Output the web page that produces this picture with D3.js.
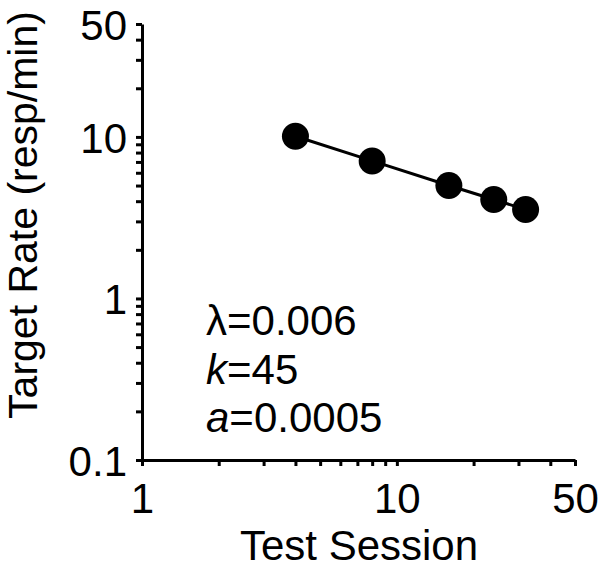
<!DOCTYPE html>
<html>
<head>
<meta charset="utf-8">
<script src="https://cdn.jsdelivr.net/npm/d3@7"></script>
<style>
html,body{margin:0;padding:0;background:#fff;}
svg{display:block;font-family:"Liberation Sans",Arial,sans-serif;}
</style>
</head>
<body>
<svg id="chart" width="600" height="568"></svg>
<script>
const sessions = [4, 8, 16, 24, 32];
const rates = [10.1, 7.1, 5.0, 4.1, 3.55];
const fitRates = [10.1, 7.1, 5.0, 4.1, 3.55];
const xTickValues = [1,2,3,4,5,6,7,8,9,10,20,30,40,50];
const xTickLabels = [1, 10, 50];
const yTickValues = [0.1,0.2,0.3,0.4,0.5,0.6,0.7,0.8,0.9,1,2,3,4,5,6,7,8,9,10,20,30,40,50];
const yTickLabels = [0.1, 1, 10, 50];
const paramLines = [
  {sym: "λ", italic: false, val: "=0.006"},
  {sym: "k", italic: true, val: "=45"},
  {sym: "a", italic: true, val: "=0.0005"}
];

const svg = d3.select("#chart");
const FS = 42;
const L = 142, R = 575, T = 24, B = 460;
const x = d3.scaleLog().domain([1, 50]).range([L, R]);
const y = d3.scaleLog().domain([0.1, 50]).range([B, T]);

const labelOf = (list, v) => {
  const lbl = list.find(t => Math.abs(t - v) < 1e-9);
  return lbl === undefined ? "" : String(lbl);
};

const xAxis = svg.append("g").attr("transform", `translate(0,${B})`)
  .call(d3.axisBottom(x).tickValues(xTickValues)
    .tickFormat(v => labelOf(xTickLabels, v))
    .tickSizeInner(6).tickSizeOuter(0).tickPadding(17));
const yAxis = svg.append("g").attr("transform", `translate(${L},0)`)
  .call(d3.axisLeft(y).tickValues(yTickValues)
    .tickFormat(v => labelOf(yTickLabels, v))
    .tickSizeInner(6).tickSizeOuter(0).tickPadding(9));

[xAxis, yAxis].forEach(g => {
  g.select(".domain").attr("stroke", "#000").attr("stroke-width", 3);
  g.selectAll(".tick line").attr("stroke", "#000").attr("stroke-width", 3);
  g.selectAll(".tick text").attr("fill", "#000").attr("font-size", FS)
    .attr("font-family", '"Liberation Sans",Arial,sans-serif');
});
yAxis.selectAll(".tick text").attr("dy", "0.36em");
xAxis.selectAll(".tick text").attr("dy", "0.71em");

// fitted line
const line = d3.line().x((d, i) => x(sessions[i])).y(d => y(d));
svg.append("path").datum(fitRates)
  .attr("d", line).attr("fill", "none").attr("stroke", "#000").attr("stroke-width", 3);

// points
svg.append("g").selectAll("circle").data(rates).join("circle")
  .attr("cx", (d, i) => x(sessions[i])).attr("cy", d => y(d))
  .attr("r", 13.5).attr("fill", "#000");

// parameter text
const pt = svg.append("g");
paramLines.forEach((p, i) => {
  const t = pt.append("text").attr("x", 206).attr("y", 335 + i * 48.5)
    .attr("font-size", FS).attr("fill", "#000");
  t.append("tspan").attr("font-style", p.italic ? "italic" : "normal").text(p.sym);
  t.append("tspan").text(p.val);
});

// axis titles
svg.append("text").attr("x", 359).attr("y", 560)
  .attr("text-anchor", "middle").attr("font-size", FS).attr("fill", "#000")
  .text("Test Session");
svg.append("text").attr("transform", `translate(37,${215}) rotate(-90)`)
  .attr("text-anchor", "middle").attr("font-size", 41).attr("fill", "#000")
  .text("Target Rate (resp/min)");
</script>
</body>
</html>
